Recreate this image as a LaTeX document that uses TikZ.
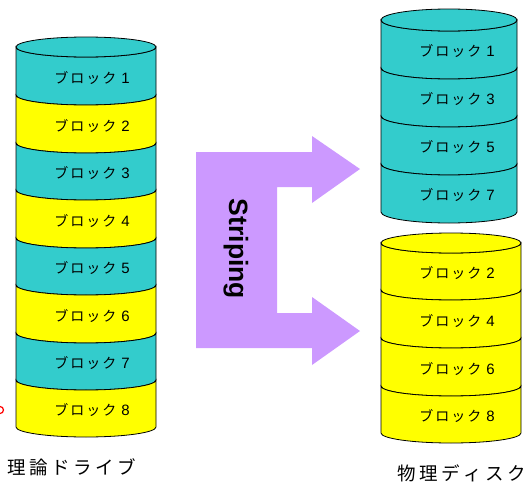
\documentclass[tikz,border=0pt]{standalone}
\usepackage{fontspec}
\setmainfont{Liberation Sans}
\newfontfamily\cjk{Noto Sans CJK JP}
\usetikzlibrary{positioning}

\definecolor{diskteal}{HTML}{33CCCC}
\definecolor{diskyellow}{HTML}{FFFF00}
\definecolor{stripepurple}{HTML}{CC99FF}

% one slice of a disk: cx, rx, ry, ytop, ybot, colour
\newcommand\diskslice[6]{%
  \draw[slice, fill=#6] ({#1-#2},#4) -- ({#1-#2},#5)
    arc[start angle=180, end angle=360, x radius=#2pt, y radius=#3pt]
    -- ({#1+#2},#4)
    arc[start angle=0, end angle=-180, x radius=#2pt, y radius=#3pt] -- cycle;}
\newcommand\disktop[5]{%
  \draw[slice, fill=#5] (#1,#4) ellipse[x radius=#2pt, y radius=#3pt];}
\newcommand\blocktext[1]{{\cjk\fontsize{14}{14}\selectfont
  ブ\hspace{2pt}ロ\hspace{2pt}ッ\hspace{2pt}ク}\hspace{5pt}{\fontsize{15}{15}\selectfont #1}}

\begin{document}
\begin{tikzpicture}[
  x=1pt, y=-1pt,
  slice/.style={draw=black, line width=0.8pt},
  blk/.style={inner sep=0pt, anchor=center},
  caption/.style={inner sep=0pt, font=\cjk\fontsize{18.5}{18.5}\selectfont},
  flow/.style={fill=stripepurple, draw=none}
]
\useasboundingbox (0,0) rectangle (523,482);

% logical drive
\diskslice{86}{70}{10}{47}{95}{diskteal}
\diskslice{86}{70}{10}{95}{143}{diskyellow}
\diskslice{86}{70}{10}{143}{190}{diskteal}
\diskslice{86}{70}{10}{190}{238}{diskyellow}
\diskslice{86}{70}{10}{238}{285}{diskteal}
\diskslice{86}{70}{10}{285}{333}{diskyellow}
\diskslice{86}{70}{10}{333}{380}{diskteal}
\diskslice{86}{70}{10}{380}{427}{diskyellow}
\disktop{86}{70}{10}{47}{diskteal}

\node[blk] (l1) at (92,78) {\blocktext{1}};
\node[blk] (l2) at (92,126) {\blocktext{2}};
\node[blk] (l3) at (92,173.5) {\blocktext{3}};
\node[blk] (l4) at (92,221) {\blocktext{4}};
\node[blk] (l5) at (92,268.5) {\blocktext{5}};
\node[blk] (l6) at (92,316) {\blocktext{6}};
\node[blk] (l7) at (92,363.5) {\blocktext{7}};
\node[blk] (l8) at (92,410.5) {\blocktext{8}};

% physical disks
\diskslice{449}{68}{11}{20}{68}{diskteal}
\diskslice{449}{68}{11}{68}{116}{diskteal}
\diskslice{449}{68}{11}{116}{164}{diskteal}
\diskslice{449}{68}{11}{164}{212}{diskteal}
\disktop{449}{68}{11}{20}{diskteal}

\diskslice{451}{70}{10}{243}{290}{diskyellow}
\diskslice{451}{70}{10}{290}{338}{diskyellow}
\diskslice{451}{70}{10}{338}{386}{diskyellow}
\diskslice{451}{70}{10}{386}{433}{diskyellow}
\disktop{451}{70}{10}{243}{diskyellow}

\node[blk] (r1) at (457,51) {\blocktext{1}};
\node[blk] (r3) at (457,99) {\blocktext{3}};
\node[blk] (r5) at (457,147) {\blocktext{5}};
\node[blk] (r7) at (457,195) {\blocktext{7}};
\node[blk] (r2) at (457,273.5) {\blocktext{2}};
\node[blk] (r4) at (457,321) {\blocktext{4}};
\node[blk] (r6) at (457,369) {\blocktext{6}};
\node[blk] (r8) at (457,416.5) {\blocktext{8}};

% striping arrows
\fill[flow] (196,152) -- (312,152) -- (312,136) -- (360,169) -- (312,203)
  -- (312,187) -- (277,187) -- (277,313) -- (312,313) -- (312,297)
  -- (360,331) -- (312,365) -- (312,348) -- (196,348) -- cycle;
\node[rotate=-90, font=\bfseries\fontsize{26.5}{26.5}\selectfont] (striping) at (236,249) {Striping};

% captions
\node[caption] (logical) at (72,467) {理\hspace{3.5pt}論\hspace{3.5pt}ド\hspace{3.5pt}ラ\hspace{3.5pt}イ\hspace{3.5pt}ブ};
\node[caption, anchor=west] (physical) at (397,473) {物\hspace{3.5pt}理\hspace{3.5pt}デ\hspace{3.5pt}ィ\hspace{3.5pt}ス\hspace{3.5pt}ク};

\draw[red, line width=1.2pt] (0,410) circle[radius=3.5pt];
\end{tikzpicture}
\end{document}
